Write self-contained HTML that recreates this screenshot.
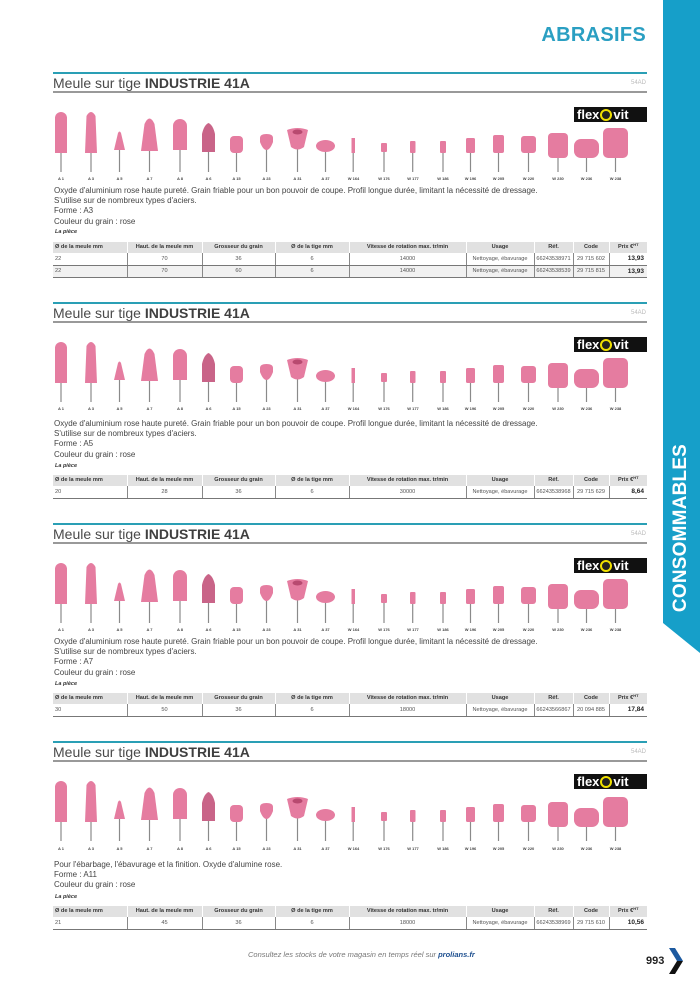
<!DOCTYPE html>
<html><head><meta charset="utf-8">
<style>
*{margin:0;padding:0;box-sizing:border-box}
body{width:700px;height:992px;position:relative;background:#fff;font-family:"Liberation Sans",sans-serif;overflow:hidden;color:#444}
.strip{position:absolute;left:663px;top:0;width:37px;height:653px;background:#169fc9;clip-path:polygon(0 0,100% 0,100% 100%,0 623px)}
.cons{position:absolute;left:681px;top:528px;transform:translate(-50%,-50%) rotate(-90deg);color:#fff;font-weight:bold;font-size:19px;white-space:nowrap;letter-spacing:0.2px}
.abr{position:absolute;right:54px;top:24px;color:#2a9fc2;font-size:20px;font-weight:bold;letter-spacing:0.3px}
.sec{position:absolute;left:0;width:700px;height:220px}
.tl{position:absolute;left:53px;top:0;width:594px;height:2px;background:#2a9fb5}
.tl2{}
.ttl{position:absolute;left:53px;top:3px;font-size:14px;color:#4a4a4a;white-space:nowrap}
.ttl b{color:#3f3f3f}
.code{position:absolute;right:54px;top:8px;font-size:6px;color:#bbb}
.gl{position:absolute;left:53px;top:19px;width:594px;height:1.5px;background:#999}
.logo{position:absolute;left:574px;top:35px;width:73px;height:15px;background:#111;color:#fff;font-weight:bold;font-size:13px;line-height:15px;padding-left:3px;white-space:nowrap}
.logo i{display:inline-block;width:12px;height:12px;border:2px solid #f0e000;border-radius:50%;vertical-align:-2px;margin:0 1px;background:#222}
svg.p{position:absolute;left:0;top:0}
.txt{position:absolute;left:54px;font-size:8px;line-height:10.2px;color:#444}
.lp{position:absolute;left:55px;font-size:5.5px;font-style:italic;font-weight:bold;color:#333}
table{position:absolute;left:53px;width:594px;border-collapse:collapse;table-layout:fixed;font-size:5.6px}
th{background:#e1e1e1;height:11px;line-height:11px;font-weight:bold;color:#333;border-left:1.5px solid #fff;text-align:center;overflow:hidden;white-space:nowrap}
th sup{font-size:4px;line-height:0;vertical-align:2px}
th:first-child{text-align:left;padding-left:2px;border-left:none}
td{height:12px;border-left:1px solid #888;border-bottom:1.3px solid #777;text-align:center;color:#555}
td:first-child{border-left:none;text-align:left;padding-left:2px}
td:last-child{text-align:right;padding-right:3px;font-weight:bold;color:#222;font-size:6.5px}
tr.g td{background:#f1f1f1}
.foot{position:absolute;left:248px;top:950px;font-size:7.5px;font-style:italic;color:#777}
.foot b{color:#1d4f8f}
.pg{position:absolute;left:646px;top:955px;font-size:11px;font-weight:bold;color:#222}
</style></head><body>
<div class="strip"></div>
<div class="cons">CONSOMMABLES</div>
<div class="abr">ABRASIFS</div>

<svg width="0" height="0" style="position:absolute">
<defs>
<g id="prods">
<g stroke="#8a8a8a" stroke-width="1.2">
<line x1="61" y1="80" x2="61" y2="100"/><line x1="91" y1="80" x2="91" y2="100"/><line x1="119.5" y1="78" x2="119.5" y2="100"/><line x1="149.5" y1="78" x2="149.5" y2="100"/><line x1="180" y1="78" x2="180" y2="100"/><line x1="208.5" y1="80" x2="208.5" y2="100"/><line x1="236.5" y1="80" x2="236.5" y2="100"/><line x1="266.5" y1="77" x2="266.5" y2="100"/><line x1="297.5" y1="77" x2="297.5" y2="100"/><line x1="325.5" y1="79" x2="325.5" y2="100"/><line x1="353.2" y1="80" x2="353.2" y2="100"/><line x1="384" y1="80" x2="384" y2="100"/><line x1="412.7" y1="80" x2="412.7" y2="100"/><line x1="443" y1="80" x2="443" y2="100"/><line x1="470.5" y1="80" x2="470.5" y2="100"/><line x1="498.5" y1="80" x2="498.5" y2="100"/><line x1="528.5" y1="80" x2="528.5" y2="100"/><line x1="558" y1="85" x2="558" y2="100"/><line x1="586.5" y1="85" x2="586.5" y2="100"/><line x1="615.5" y1="85" x2="615.5" y2="100"/>
</g>
<g fill="#e57ca0">
<rect x="55" y="40" width="12" height="41" rx="6"/><rect x="55" y="55" width="12" height="26"/>
<path d="M85,81 L86.5,44 Q91,36 95.5,44 L97,81 Z"/>
<path d="M114,78 L118,61 Q119.5,58 121,61 L125,78 Z"/>
<path d="M141,79 L144.5,52 Q149.5,41 154.5,52 L158,79 Z"/>
<rect x="173" y="47" width="14" height="31" rx="7"/><rect x="173" y="62" width="14" height="16"/>
<path d="M202,80 L202,62 Q204,53 208.5,51 Q213,53 215,62 L215,80 Z" fill="#c96488"/>
<rect x="230" y="64" width="13" height="17" rx="4"/>
<path d="M260,66 Q260,62 266.5,62 Q273,62 273,66 L273,70 Q270,78 266.5,78 Q263,78 260,70 Z"/>
<path d="M287,58 Q297.5,54 308,58 L304,75 Q297.5,80 291,75 Z"/>
<ellipse cx="325.5" cy="74" rx="9.5" ry="6"/>
<rect x="351.5" y="66" width="3.5" height="15"/>
<rect x="381" y="71" width="6" height="9" rx="1"/>
<rect x="410" y="69" width="5.5" height="12" rx="1"/>
<rect x="440" y="69" width="6" height="12" rx="1"/>
<rect x="466" y="66" width="9" height="15" rx="1.5"/>
<rect x="493" y="63" width="11" height="18" rx="2"/>
<rect x="521" y="64" width="15" height="17" rx="3"/>
<rect x="548" y="61" width="20" height="25" rx="4"/>
<rect x="574" y="67" width="25" height="19" rx="7"/>
<rect x="603" y="56" width="25" height="30" rx="5"/>
</g>
<ellipse cx="297.5" cy="60" rx="5" ry="2.5" fill="#b84a70"/>
</g>
</defs>
</svg>

<!-- Section 1 -->
<div class="sec" style="top:72px">
<div class="tl"></div><div class="ttl">Meule sur tige <b>INDUSTRIE 41A</b></div><div class="code">54AD</div><div class="gl"></div>
<div class="logo">flex<i></i>vit</div>
<svg class="p" width="700" height="115"><use href="#prods"/>
<g font-size="4" font-weight="bold" fill="#444" text-anchor="middle"><text x="61" y="108">A 1</text><text x="91" y="108">A 3</text><text x="119.5" y="108">A 5</text><text x="149.5" y="108">A 7</text><text x="180" y="108">A 8</text><text x="208.5" y="108">A 6</text><text x="236.5" y="108">A 15</text><text x="266.5" y="108">A 23</text><text x="297.5" y="108">A 31</text><text x="325.5" y="108">A 37</text><text x="353.5" y="108">W 164</text><text x="384" y="108">W 176</text><text x="413" y="108">W 177</text><text x="443" y="108">W 186</text><text x="470.5" y="108">W 196</text><text x="498.5" y="108">W 205</text><text x="528.5" y="108">W 220</text><text x="558" y="108">W 230</text><text x="586.5" y="108">W 236</text><text x="615.5" y="108">W 238</text></g></svg>
<div class="txt" style="top:114px">Oxyde d'aluminium rose haute pureté. Grain friable pour un bon pouvoir de coupe. Profil longue durée, limitant la nécessité de dressage.<br>S'utilise sur de nombreux types d'aciers.<br>Forme : A3<br>Couleur du grain : rose</div>
<div class="lp" style="top:157px">La pièce</div>
<table style="top:170px"><colgroup><col style="width:74px"><col style="width:75px"><col style="width:73px"><col style="width:74px"><col style="width:117px"><col style="width:68px"><col style="width:39px"><col style="width:36px"><col style="width:38px"></colgroup>
<tr><th>Ø de la meule mm</th><th>Haut. de la meule mm</th><th>Grosseur du grain</th><th>Ø de la tige mm</th><th>Vitesse de rotation max. tr/min</th><th>Usage</th><th>Réf.</th><th>Code</th><th>Prix €<sup>HT</sup></th></tr>
<tr><td>22</td><td>70</td><td>36</td><td>6</td><td>14000</td><td>Nettoyage, ébavurage</td><td>66243538971</td><td>29 715 602</td><td>13,93</td></tr>
<tr class="g"><td>22</td><td>70</td><td>60</td><td>6</td><td>14000</td><td>Nettoyage, ébavurage</td><td>66243538539</td><td>29 715 815</td><td>13,93</td></tr>
</table>
</div>

<!-- Section 2 -->
<div class="sec" style="top:302px">
<div class="tl"></div><div class="ttl">Meule sur tige <b>INDUSTRIE 41A</b></div><div class="code">54AD</div><div class="gl"></div>
<div class="logo">flex<i></i>vit</div>
<svg class="p" width="700" height="115"><use href="#prods"/>
<g font-size="4" font-weight="bold" fill="#444" text-anchor="middle"><text x="61" y="108">A 1</text><text x="91" y="108">A 3</text><text x="119.5" y="108">A 5</text><text x="149.5" y="108">A 7</text><text x="180" y="108">A 8</text><text x="208.5" y="108">A 6</text><text x="236.5" y="108">A 15</text><text x="266.5" y="108">A 23</text><text x="297.5" y="108">A 31</text><text x="325.5" y="108">A 37</text><text x="353.5" y="108">W 164</text><text x="384" y="108">W 176</text><text x="413" y="108">W 177</text><text x="443" y="108">W 186</text><text x="470.5" y="108">W 196</text><text x="498.5" y="108">W 205</text><text x="528.5" y="108">W 220</text><text x="558" y="108">W 230</text><text x="586.5" y="108">W 236</text><text x="615.5" y="108">W 238</text></g></svg>
<div class="txt" style="top:117px">Oxyde d'aluminium rose haute pureté. Grain friable pour un bon pouvoir de coupe. Profil longue durée, limitant la nécessité de dressage.<br>S'utilise sur de nombreux types d'aciers.<br>Forme : A5<br>Couleur du grain : rose</div>
<div class="lp" style="top:161px">La pièce</div>
<table style="top:173px"><colgroup><col style="width:74px"><col style="width:75px"><col style="width:73px"><col style="width:74px"><col style="width:117px"><col style="width:68px"><col style="width:39px"><col style="width:36px"><col style="width:38px"></colgroup>
<tr><th>Ø de la meule mm</th><th>Haut. de la meule mm</th><th>Grosseur du grain</th><th>Ø de la tige mm</th><th>Vitesse de rotation max. tr/min</th><th>Usage</th><th>Réf.</th><th>Code</th><th>Prix €<sup>HT</sup></th></tr>
<tr><td>20</td><td>28</td><td>36</td><td>6</td><td>30000</td><td>Nettoyage, ébavurage</td><td>66243538968</td><td>29 715 629</td><td>8,64</td></tr>
</table>
</div>

<!-- Section 3 -->
<div class="sec" style="top:523px">
<div class="tl"></div><div class="ttl">Meule sur tige <b>INDUSTRIE 41A</b></div><div class="code">54AD</div><div class="gl"></div>
<div class="logo">flex<i></i>vit</div>
<svg class="p" width="700" height="115"><use href="#prods"/>
<g font-size="4" font-weight="bold" fill="#444" text-anchor="middle"><text x="61" y="108">A 1</text><text x="91" y="108">A 3</text><text x="119.5" y="108">A 5</text><text x="149.5" y="108">A 7</text><text x="180" y="108">A 8</text><text x="208.5" y="108">A 6</text><text x="236.5" y="108">A 15</text><text x="266.5" y="108">A 23</text><text x="297.5" y="108">A 31</text><text x="325.5" y="108">A 37</text><text x="353.5" y="108">W 164</text><text x="384" y="108">W 176</text><text x="413" y="108">W 177</text><text x="443" y="108">W 186</text><text x="470.5" y="108">W 196</text><text x="498.5" y="108">W 205</text><text x="528.5" y="108">W 220</text><text x="558" y="108">W 230</text><text x="586.5" y="108">W 236</text><text x="615.5" y="108">W 238</text></g></svg>
<div class="txt" style="top:114px">Oxyde d'aluminium rose haute pureté. Grain friable pour un bon pouvoir de coupe. Profil longue durée, limitant la nécessité de dressage.<br>S'utilise sur de nombreux types d'aciers.<br>Forme : A7<br>Couleur du grain : rose</div>
<div class="lp" style="top:158px">La pièce</div>
<table style="top:170px"><colgroup><col style="width:74px"><col style="width:75px"><col style="width:73px"><col style="width:74px"><col style="width:117px"><col style="width:68px"><col style="width:39px"><col style="width:36px"><col style="width:38px"></colgroup>
<tr><th>Ø de la meule mm</th><th>Haut. de la meule mm</th><th>Grosseur du grain</th><th>Ø de la tige mm</th><th>Vitesse de rotation max. tr/min</th><th>Usage</th><th>Réf.</th><th>Code</th><th>Prix €<sup>HT</sup></th></tr>
<tr><td>30</td><td>50</td><td>36</td><td>6</td><td>18000</td><td>Nettoyage, ébavurage</td><td>66243566867</td><td>20 094 885</td><td>17,84</td></tr>
</table>
</div>

<!-- Section 4 -->
<div class="sec" style="top:741px">
<div class="tl"></div><div class="ttl">Meule sur tige <b>INDUSTRIE 41A</b></div><div class="code">54AD</div><div class="gl"></div>
<div class="logo" style="top:33px">flex<i></i>vit</div>
<svg class="p" width="700" height="115"><use href="#prods"/>
<g font-size="4" font-weight="bold" fill="#444" text-anchor="middle"><text x="61" y="109">A 1</text><text x="91" y="109">A 3</text><text x="119.5" y="109">A 5</text><text x="149.5" y="109">A 7</text><text x="180" y="109">A 8</text><text x="208.5" y="109">A 6</text><text x="236.5" y="109">A 15</text><text x="266.5" y="109">A 23</text><text x="297.5" y="109">A 31</text><text x="325.5" y="109">A 37</text><text x="353.5" y="109">W 164</text><text x="384" y="109">W 176</text><text x="413" y="109">W 177</text><text x="443" y="109">W 186</text><text x="470.5" y="109">W 196</text><text x="498.5" y="109">W 205</text><text x="528.5" y="109">W 220</text><text x="558" y="109">W 230</text><text x="586.5" y="109">W 236</text><text x="615.5" y="109">W 238</text></g></svg>
<div class="txt" style="top:119px">Pour l'ébarbage, l'ébavurage et la finition. Oxyde d'alumine rose.<br>Forme : A11<br>Couleur du grain : rose</div>
<div class="lp" style="top:153px">La pièce</div>
<table style="top:165px"><colgroup><col style="width:74px"><col style="width:75px"><col style="width:73px"><col style="width:74px"><col style="width:117px"><col style="width:68px"><col style="width:39px"><col style="width:36px"><col style="width:38px"></colgroup>
<tr><th>Ø de la meule mm</th><th>Haut. de la meule mm</th><th>Grosseur du grain</th><th>Ø de la tige mm</th><th>Vitesse de rotation max. tr/min</th><th>Usage</th><th>Réf.</th><th>Code</th><th>Prix €<sup>HT</sup></th></tr>
<tr><td>21</td><td>45</td><td>36</td><td>6</td><td>18000</td><td>Nettoyage, ébavurage</td><td>66243538969</td><td>29 715 610</td><td>10,56</td></tr>
</table>
</div>

<div class="foot">Consultez les stocks de votre magasin en temps réel sur <b>prolians.fr</b></div>
<div class="pg">993</div>
<svg style="position:absolute;left:667px;top:946px" width="18" height="30"><path d="M2,2 L8,2 L16,15 L10,15 Z" fill="#1d5aa0"/><path d="M10,15 L16,15 L8,28 L2,28 Z" fill="#111"/></svg>
</body></html>
